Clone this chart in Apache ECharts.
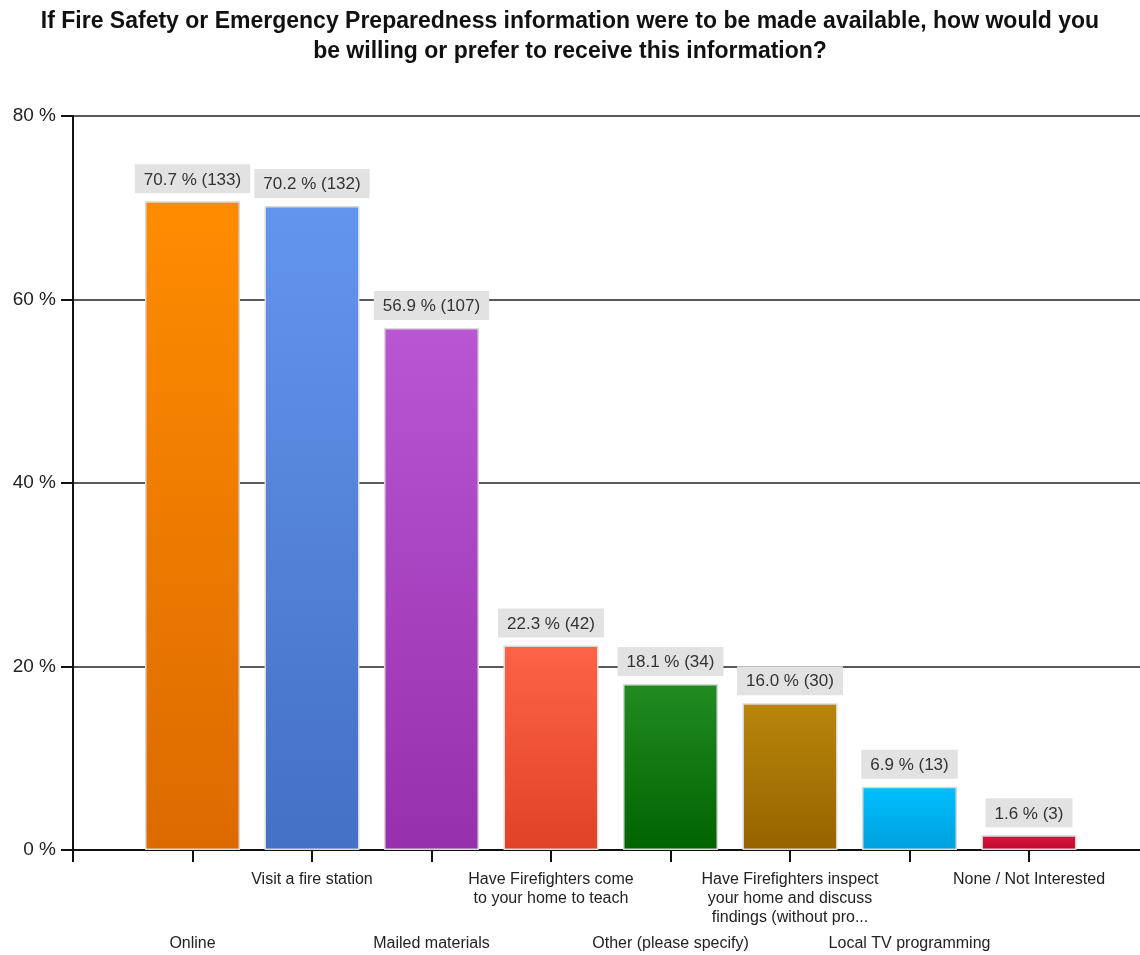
<!DOCTYPE html>
<html>
<head>
<meta charset="utf-8">
<title>Fire Safety Information Preferences</title>
<script src="https://cdn.jsdelivr.net/npm/echarts@6/dist/echarts.min.js"></script>
<style>
  html, body { margin: 0; padding: 0; background: #ffffff; }
  #chart { width: 1140px; height: 955px; }
</style>
</head>
<body>
<div id="chart"></div>
<script>
// Survey answers, as shown under each bar
const categories = [
  'Online',
  'Visit a fire station',
  'Mailed materials',
  'Have Firefighters come\nto your home to teach',
  'Other (please specify)',
  'Have Firefighters inspect\nyour home and discuss\nfindings (without pro...',
  'Local TV programming',
  'None / Not Interested'
];
// Share of respondents (%) and response counts
const percents = [70.7, 70.2, 56.9, 22.3, 18.1, 16.0, 6.9, 1.6];
const counts = [133, 132, 107, 42, 34, 30, 13, 3];
// Bar colours: top and bottom of the vertical gradient
const topColors = ['#ff8c00', '#6495ed', '#ba55d3', '#ff6347', '#228b22', '#b8860b', '#00bfff', '#dc143c'];
const bottomColors = ['#dc6a00', '#4470c6', '#9630ad', '#df4226', '#006400', '#966300', '#00a0dc', '#c20a2e'];
// Value axis ticks (%)
const yTicks = [0, 20, 40, 60, 80];

const chart = echarts.init(document.getElementById('chart'), null, { renderer: 'canvas' });

// One empty slot at each end keeps the first bar a full step away from the value axis
const axisCats = [''].concat(categories, ['']);
const barData = ['-'].concat(percents.map((v, i) => ({
  value: v,
  count: counts[i],
  itemStyle: {
    color: new echarts.graphic.LinearGradient(0, 0, 0, 1, [
      { offset: 0, color: topColors[i] },
      { offset: 1, color: bottomColors[i] }
    ])
  }
})), ['-']);

const font = 'Liberation Sans, Arial, sans-serif';

chart.setOption({
  animation: false,
  backgroundColor: '#ffffff',
  title: {
    text: 'If Fire Safety or Emergency Preparedness information were to be made available, how would you\nbe willing or prefer to receive this information?',
    left: 'center',
    top: 2,
    textStyle: {
      fontFamily: font,
      fontSize: 23,
      fontWeight: 'bold',
      color: '#111',
      lineHeight: 30
    }
  },
  // the last (empty) slot runs past the right edge of the canvas
  grid: { left: 73, width: 1075.5, top: 116, bottom: 105, containLabel: false, outerBoundsMode: 'none' },
  xAxis: {
    type: 'category',
    data: axisCats,
    boundaryGap: false,
    axisLine: { show: true, lineStyle: { color: '#111', width: 2 } },
    axisTick: { show: true, length: 12, lineStyle: { color: '#111', width: 2 } },
    splitLine: { show: false },
    axisLabel: {
      interval: 0,
      margin: 20,
      color: '#222',
      fontFamily: font,
      fontSize: 16,
      lineHeight: 19,
      formatter: function (val, idx) {
        if (!val) return '';
        // alternate labels between two rows
        return (idx % 2 === 1) ? '{low|' + val + '}' : val;
      },
      rich: {
        low: { padding: [128, 0, 0, 0], fontFamily: font, fontSize: 16, color: '#222', lineHeight: 19 }
      }
    }
  },
  yAxis: {
    type: 'value',
    min: yTicks[0],
    max: yTicks[yTicks.length - 1],
    interval: 20,
    axisLine: { show: true, lineStyle: { color: '#111', width: 2 } },
    axisTick: { show: true, length: 12, lineStyle: { color: '#111', width: 2 } },
    splitLine: { show: true, lineStyle: { color: '#222', width: 1.5 } },
    axisLabel: {
      margin: 17,
      color: '#222',
      fontFamily: font,
      fontSize: 19,
      formatter: '{value} %'
    }
  },
  series: [{
    type: 'bar',
    data: barData,
    barWidth: 95,
    itemStyle: { borderColor: '#d9d9d9', borderWidth: 1.5 },
    label: {
      show: true,
      position: 'top',
      distance: 8,
      backgroundColor: '#e2e2e2',
      padding: [7, 9, 5, 9],
      color: '#333',
      fontFamily: font,
      fontSize: 17,
      formatter: function (p) {
        return p.value.toFixed(1) + ' % (' + p.data.count + ')';
      }
    }
  }]
});
</script>
</body>
</html>
